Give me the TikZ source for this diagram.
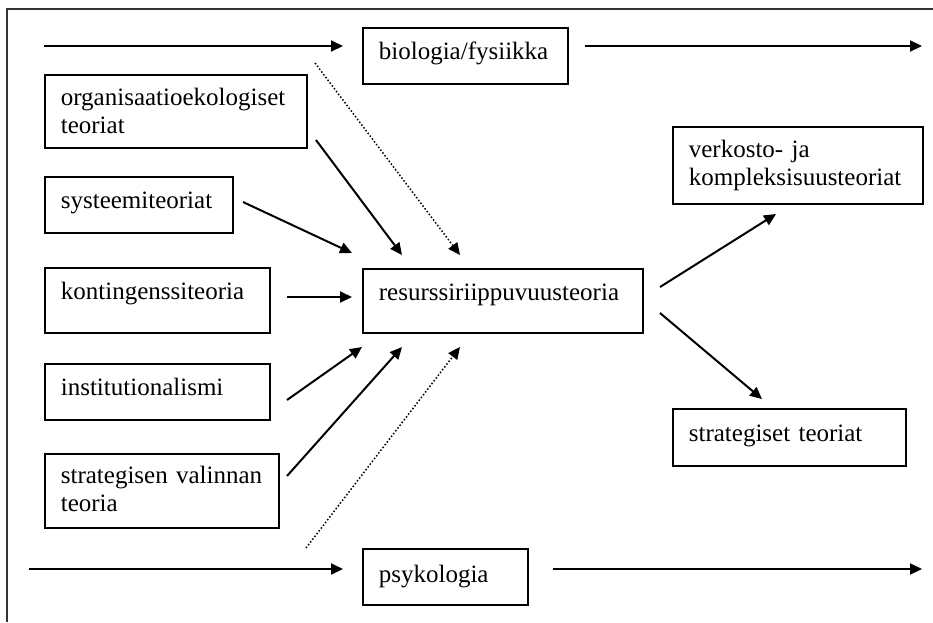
\documentclass[tikz,border=0pt]{standalone}
\usepackage{fontspec}
\setmainfont{Liberation Serif}
\usetikzlibrary{arrows.meta}

\begin{document}
\begin{tikzpicture}[x=1pt, y=-1pt, ->, >={Triangle[length=12pt,width=11pt]}, line width=2pt,
  box/.style={draw, -, line width=1.7pt, anchor=north west, align=left, inner xsep=16pt, inner ysep=0pt,
    text height=32pt, font=\fontsize{25}{28}\selectfont},
  dots/.style={dotted, line width=1.5pt}]
\useasboundingbox (0,0) rectangle (933,622);
% Kehys
\draw[-, draw=black!80, line width=2pt] (933,9) -- (7,9) -- (7,622);

% Laatikot
\node[box, text width=173pt, text depth=24pt] (bio) at (362,27) {biologia/fysiikka};
\node[box, text width=230pt, text height=31pt, text depth=42pt] (org) at (44,74) {organisaatioekologiset\\teoriat};
\node[box, text width=156pt, text depth=24pt] (sys) at (44,176) {systeemiteoriat};
\node[box, text width=193pt, text depth=33pt] (kon) at (44,267) {kontingenssiteoria};
\node[box, text width=248pt, text depth=32pt] (res) at (362,268) {resurssiriippuvuusteoria};
\node[box, text width=193pt, text depth=24pt] (ins) at (44,363) {institutionalismi};
\node[box, text width=202pt, text height=30pt, text depth=44pt] (stv) at (44,453) {strategisen~valinnan\\teoria};
\node[box, text width=133pt, text height=34pt, text depth=22pt] (psy) at (362,548) {psykologia};
\node[box, text width=218pt, text height=31pt, text depth=46pt] (ver) at (672,126) {verkosto- ja\\kompleksisuusteoriat};
\node[box, text width=201pt, text height=33pt, text depth=24pt] (str) at (672,408) {strategiset teoriat};

% Nuolten päät
\coordinate (bioA) at (44,46);   \coordinate (bioB) at (343,46);
\coordinate (bioC) at (585,46);  \coordinate (bioD) at (922,46);
\coordinate (psyA) at (29,569);  \coordinate (psyB) at (343,569);
\coordinate (psyC) at (553,569); \coordinate (psyD) at (922,569);
\coordinate (bioDot) at (315,63);  \coordinate (resBioDot) at (460,255);
\coordinate (orgOut) at (316,140); \coordinate (resOrg) at (402,255);
\coordinate (sysOut) at (243,202); \coordinate (resSys) at (352,253);
\coordinate (konOut) at (287,297); \coordinate (resKon) at (352,297);
\coordinate (insOut) at (287,400); \coordinate (resIns) at (362,347);
\coordinate (stvOut) at (287,476); \coordinate (resStv) at (402,347);
\coordinate (psyDot) at (306,548); \coordinate (resPsyDot) at (460,347);
\coordinate (resVer) at (660,287); \coordinate (verIn) at (776,214);
\coordinate (resStr) at (660,313); \coordinate (strIn) at (762,399);

% Nuolet
\draw (bioA) -- (bioB);
\draw (bioC) -- (bioD);
\draw (psyA) -- (psyB);
\draw (psyC) -- (psyD);
\draw[dots] (bioDot) -- (resBioDot);
\draw (orgOut) -- (resOrg);
\draw (sysOut) -- (resSys);
\draw (konOut) -- (resKon);
\draw (insOut) -- (resIns);
\draw (stvOut) -- (resStv);
\draw[dots] (psyDot) -- (resPsyDot);
\draw (resVer) -- (verIn);
\draw (resStr) -- (strIn);
\end{tikzpicture}
\end{document}
